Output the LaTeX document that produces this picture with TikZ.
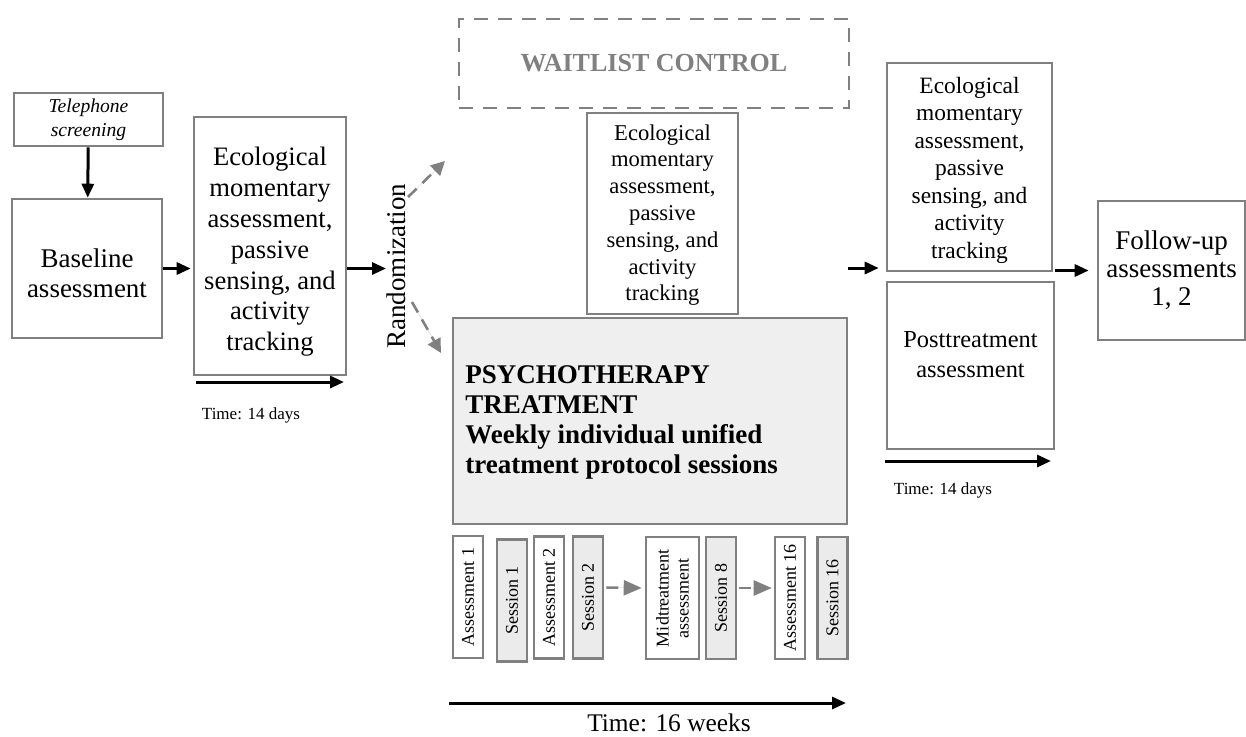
\documentclass[tikz,border=0pt]{standalone}
\usepackage{fontspec}
\setmainfont{Liberation Serif}
\usetikzlibrary{arrows.meta}
\definecolor{bgray}{HTML}{808080}
\definecolor{lgray}{HTML}{EFEFEF}
\definecolor{sgray}{HTML}{EBEBEB}
\begin{document}
\begin{tikzpicture}[x=0.5pt,y=-0.5pt,
 box/.style={draw=bgray, line width=1.3pt, inner sep=0pt, align=center},
 txt/.style={align=center, inner sep=0pt},
 arr/.style={-{Triangle[length=7pt,width=6pt]}, line width=1.5pt},
 darr/.style={-{Triangle[length=7pt,width=7pt]}, draw=bgray, fill=bgray, line width=1.3pt, dash pattern=on 5pt off 4pt},
 small/.style={box, rotate=90, minimum width=61pt, minimum height=15pt, font=\fontsize{9}{10}\selectfont},
 sess/.style={small, fill=sgray}]
\useasboundingbox (0,0) rectangle (1246,736);

\node[box, minimum width=74.5pt, minimum height=26.5pt, font=\fontsize{9.8}{12}\selectfont\itshape] (tel) at (88.5,119.5) {Telephone\\screening};
\node[box, minimum width=75pt, minimum height=69.5pt] (base) at (87,268.5) {};
\node[txt, font=\fontsize{13.5}{15}\selectfont] (basetxt) at (87,273) {Baseline\\assessment};
\node[box, minimum width=76pt, minimum height=129pt] (ema1) at (270,246) {};
\node[txt, font=\fontsize{13.3}{15.4}\selectfont] (ema1txt) at (270,252) {Ecological\\momentary\\assessment,\\passive\\sensing, and\\activity\\tracking};
\node[rotate=90, font=\fontsize{13.5}{15}\selectfont] (rnd) at (396,266) {Randomization};

\node[box, dash pattern=on 7pt off 5pt, minimum width=195pt, minimum height=44.5pt, text=bgray, font=\fontsize{13}{15}\selectfont\bfseries] (wait) at (654,63.5) {WAITLIST CONTROL};
\node[box, minimum width=75.5pt, minimum height=100.5pt] (ema2) at (662.5,213.5) {};
\node[txt, font=\fontsize{11.3}{13.4}\selectfont] (ema2txt) at (662.5,215) {Ecological\\momentary\\assessment,\\passive\\sensing, and\\activity\\tracking};
\node[box, fill=lgray, minimum width=197pt, minimum height=103pt] (psy) at (650,421) {};
\node[anchor=west, align=left, inner sep=0pt, font=\fontsize{13.5}{15}\selectfont\bfseries] (psytxt) at (465,422.5) {PSYCHOTHERAPY\\TREATMENT\\Weekly individual unified\\treatment protocol sessions};

\node[small] (a1) at (468,597) {Assessment 1};
\node[sess] (s1) at (512,600.5) {Session 1};
\node[small] (a2) at (549,597.5) {Assessment 2};
\node[sess] (s2) at (588,597.5) {Session 2};
\node[small, minimum height=26.5pt] (mid) at (672.5,598) {Midtreatment\\assessment};
\node[sess] (s8) at (721,598) {Session 8};
\node[small] (a16) at (790,598) {Assessment 16};
\node[sess] (s16) at (832.5,598) {Session 16};

\node[box, minimum width=82.5pt, minimum height=104pt] (ema3) at (969.5,167) {};
\node[txt, font=\fontsize{11.7}{13.75}\selectfont] (ema3txt) at (969.5,170) {Ecological\\momentary\\assessment,\\passive\\sensing, and\\activity\\tracking};
\node[box, minimum width=83.5pt, minimum height=83.5pt] (post) at (970.5,365.5) {};
\node[txt, font=\fontsize{12.2}{15}\selectfont] (posttxt) at (970.5,355) {Posttreatment\\assessment};
\node[box, minimum width=73.5pt, minimum height=69.5pt, font=\fontsize{13.5}{14}\selectfont] (fol) at (1171.5,270.5) {Follow-up\\assessments\\1, 2};

% arrows
\draw[arr] (tel) -- (base);
\draw[arr, shorten >=1pt] (base.east) -- (base.east -| ema1.west);
\coordinate (rin) at (386,268.5);
\draw[arr] (ema1.east |- rin) -- (rin);
\coordinate (ru) at (408,197);
\coordinate (wu) at (445,161);
\coordinate (rd) at (412,302);
\coordinate (pd) at (441,353);
\draw[darr, dash pattern=on 6pt off 4pt] (ru) -- (wu);
\draw[darr, dash pattern=on 6pt off 4pt] (rd) -- (pd);
\draw[darr, -{Triangle[length=9pt,width=7.5pt]}, dash pattern=on 6pt off 5pt, shorten <=1pt, shorten >=1.5pt] ([yshift=5pt]s2.south) -- ([yshift=5pt]mid.north);
\draw[darr, -{Triangle[length=9pt,width=7.5pt]}, dash pattern=on 6pt off 3pt, shorten <=1pt, shorten >=1pt] ([yshift=5pt]s8.south) -- ([yshift=5pt]a16.north);
\coordinate (q1) at (848,268);
\draw[arr, shorten >=3.5pt] (q1) -- (q1 -| ema3.west);
\coordinate (q2) at (1055,270.5);
\draw[arr, shorten >=4pt] (q2) -- (q2 -| fol.west);

% time arrows
\coordinate (t1a) at (196,382); \coordinate (t1b) at (344,382);
\draw[arr] (t1a) -- (t1b);
\node[font=\fontsize{8.5}{10}\selectfont] (t1) at (251,415) {Time: 14 days};
\coordinate (t2a) at (885,461); \coordinate (t2b) at (1051,461);
\draw[arr] (t2a) -- (t2b);
\node[font=\fontsize{8.5}{10}\selectfont] (t2) at (943,490) {Time: 14 days};
\coordinate (t3a) at (449,703); \coordinate (t3b) at (846,703);
\draw[arr] (t3a) -- (t3b);
\node[font=\fontsize{12.7}{14}\selectfont] (t3) at (669,723) {Time: 16 weeks};
\end{tikzpicture}
\end{document}
